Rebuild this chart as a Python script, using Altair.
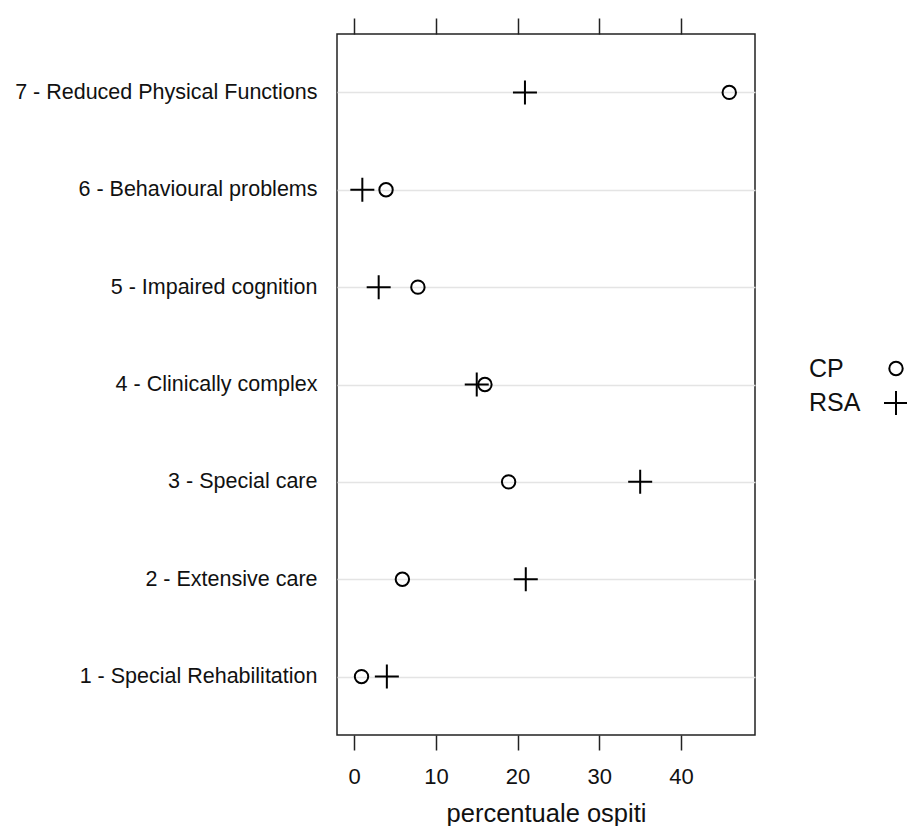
import altair as alt
import pandas as pd

categories = [
    "1 - Special Rehabilitation",
    "2 - Extensive care",
    "3 - Special care",
    "4 - Clinically complex",
    "5 - Impaired cognition",
    "6 - Behavioural problems",
    "7 - Reduced Physical Functions",
]
cp_values = [0.9, 5.9, 18.9, 16.0, 7.8, 3.9, 45.9]
rsa_values = [4.0, 21.0, 35.0, 15.0, 3.0, 1.0, 20.9]
series = ["CP", "RSA"]
x_ticks = [0, 10, 20, 30, 40]

rows = []
for c, a, b in zip(categories, cp_values, rsa_values):
    rows.append({"cat": c, "series": "CP", "value": a})
    rows.append({"cat": c, "series": "RSA", "value": b})
df = pd.DataFrame(rows)

FONT = "Liberation Sans"
CROSS = "M-1,0L1,0M0,-1L0,1"

xscale = alt.Scale(domain=[-2.1, 49.05], nice=False, zero=False)
yscale = alt.Scale(type="point", padding=0.6)

legend = alt.Legend(
    title=None, orient="none", legendX=546, legendY=322, padding=0,
    labelAlign="left", labelOffset={"expr": "-100"}, labelFontSize=25, labelFont=FONT,
    labelColor="#111", rowPadding=5, symbolStrokeWidth=2,
    symbolStrokeColor="black", symbolFillColor="transparent",
)

points = alt.Chart(df).mark_point(filled=False, strokeWidth=2, color="black", opacity=1).encode(
    x=alt.X("value:Q", scale=xscale, axis=alt.Axis(
        orient="bottom", values=x_ticks, title="percentuale ospiti", grid=False,
        domain=False, tickSize=15, tickWidth=1.5, tickColor="#222",
        labelFontSize=22, labelFont=FONT, labelColor="#111", labelPadding=16,
        titleFontSize=25.5, titleFont=FONT, titleFontWeight="normal",
        titleColor="#111", titlePadding=14)),
    y=alt.Y("cat:N", sort=categories[::-1], scale=yscale, axis=alt.Axis(
        title=None, ticks=False, tickSize=0, domain=False, grid=True,
        gridColor="#e4e4e4", gridWidth=1.5, labelFontSize=21.5, labelFont=FONT,
        labelColor="#111", labelPadding=20, labelLimit=500)),
    shape=alt.Shape("series:N", scale=alt.Scale(domain=series, range=["circle", CROSS]), legend=legend),
    size=alt.Size("series:N", scale=alt.Scale(domain=series, range=[180, 576]), legend=legend),
)

top = alt.Chart(df).mark_point(opacity=0).encode(
    x=alt.X("value:Q", scale=xscale, axis=alt.Axis(
        orient="top", values=x_ticks, labels=False, title=None, grid=False,
        domain=False, tickSize=16, tickWidth=1.5, tickColor="#222")),
)

chart = alt.layer(points, top).resolve_axis(x="independent").properties(
    width=418, height=701,
    padding={"left": 329, "top": 26, "right": 152, "bottom": 91},
    autosize=alt.AutoSizeParams(type="none"),
).configure_view(stroke="#222", strokeWidth=1.5)

chart.save("out.html", embed_options={"renderer": "svg", "actions": False})
